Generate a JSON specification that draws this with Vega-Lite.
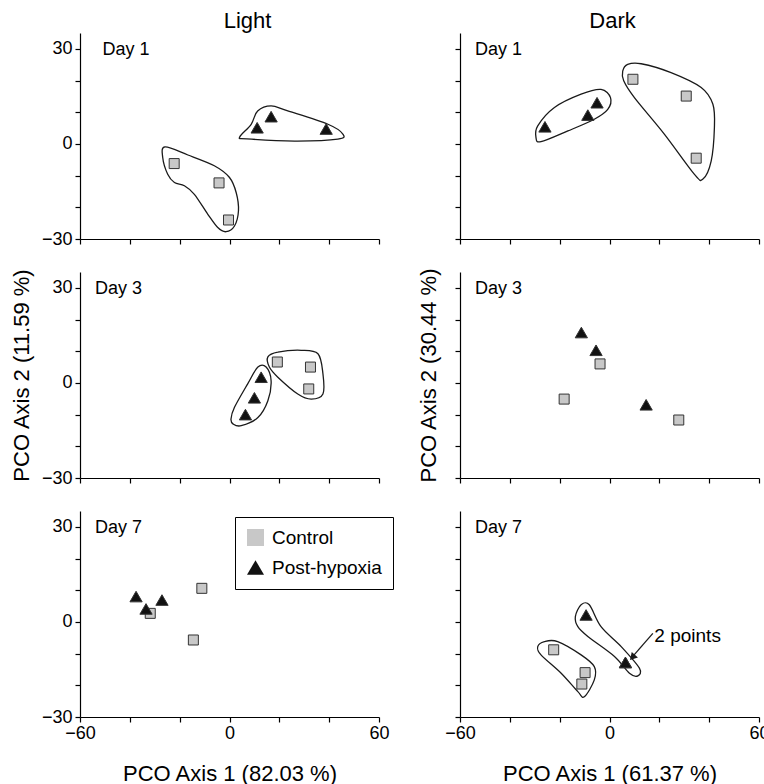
{
"$schema":"https://vega.github.io/schema/vega-lite/v6.json",
"padding":{"left":10,"top":10,"right":5,"bottom":0},
"config":{"view":{"stroke":null},"font":"Liberation Sans",
"axis":{"domainColor":"black","tickColor":"black","domainWidth":1.2,"tickWidth":1.2,"tickSize":5,"labelFont":"Liberation Sans","labelFontSize":18,"labelColor":"black","titleFont":"Liberation Sans","titleFontSize":22,"titleFontWeight":"normal","titleColor":"black","grid":false,"labelFlush":false,"labelOverlap":false,"labelBound":false},
"legend":{"title":null,"orient":"none","legendX":155,"legendY":6,"direction":"vertical","strokeColor":"black","fillColor":"white","padding":11,"symbolSize":290,"labelFontSize":19,"labelFont":"Liberation Sans","labelColor":"black","rowPadding":9,"labelOffset":7,"symbolStrokeWidth":1,"symbolStrokeColor":"#333333","cornerRadius":0},
"title":{"font":"Liberation Sans","fontSize":22,"fontWeight":"normal","color":"black"}},
"datasets":{
"pts":[
{"panel":"L1","grp":"Control","x":-22.2,"y":-6.2},{"panel":"L1","grp":"Control","x":-4.2,"y":-12.3},{"panel":"L1","grp":"Control","x":-0.4,"y":-24.0},
{"panel":"L1","grp":"Post-hypoxia","x":11.1,"y":5.1},{"panel":"L1","grp":"Post-hypoxia","x":16.7,"y":8.6},{"panel":"L1","grp":"Post-hypoxia","x":38.8,"y":4.7},
{"panel":"D1","grp":"Control","x":9.4,"y":20.4},{"panel":"D1","grp":"Control","x":30.8,"y":15.1},{"panel":"D1","grp":"Control","x":34.8,"y":-4.5},
{"panel":"D1","grp":"Post-hypoxia","x":-25.9,"y":5.4},{"panel":"D1","grp":"Post-hypoxia","x":-8.7,"y":9.1},{"panel":"D1","grp":"Post-hypoxia","x":-5.0,"y":13.0},
{"panel":"L3","grp":"Control","x":19.2,"y":6.6},{"panel":"L3","grp":"Control","x":32.5,"y":5.0},{"panel":"L3","grp":"Control","x":31.8,"y":-1.9},
{"panel":"L3","grp":"Post-hypoxia","x":12.7,"y":1.8},{"panel":"L3","grp":"Post-hypoxia","x":10.0,"y":-4.7},{"panel":"L3","grp":"Post-hypoxia","x":6.4,"y":-10.0},
{"panel":"D3","grp":"Control","x":-3.8,"y":6.0},{"panel":"D3","grp":"Control","x":-18.2,"y":-5.1},{"panel":"D3","grp":"Control","x":27.8,"y":-11.7},
{"panel":"D3","grp":"Post-hypoxia","x":-11.3,"y":15.9},{"panel":"D3","grp":"Post-hypoxia","x":-5.4,"y":10.3},{"panel":"D3","grp":"Post-hypoxia","x":14.7,"y":-6.9},
{"panel":"L7","grp":"Control","x":-31.8,"y":2.7},{"panel":"L7","grp":"Control","x":-11.1,"y":10.6},{"panel":"L7","grp":"Control","x":-14.5,"y":-5.7},
{"panel":"L7","grp":"Post-hypoxia","x":-37.5,"y":8.0},{"panel":"L7","grp":"Post-hypoxia","x":-33.5,"y":4.1},{"panel":"L7","grp":"Post-hypoxia","x":-27.1,"y":6.9},
{"panel":"D7","grp":"Control","x":-22.4,"y":-8.8},{"panel":"D7","grp":"Control","x":-9.8,"y":-16.0},{"panel":"D7","grp":"Control","x":-11.1,"y":-19.6},
{"panel":"D7","grp":"Post-hypoxia","x":-9.4,"y":2.2},{"panel":"D7","grp":"Post-hypoxia","x":6.4,"y":-12.8},{"panel":"D7","grp":"Post-hypoxia","x":6.4,"y":-12.8}
],
"hulls":[
{"panel":"L1","h":"a","i":0,"x":4.1,"y":2.2},{"panel":"L1","h":"a","i":1,"x":8.7,"y":6.2},{"panel":"L1","h":"a","i":2,"x":11.3,"y":10.4},{"panel":"L1","h":"a","i":3,"x":16.7,"y":12.0},{"panel":"L1","h":"a","i":4,"x":23.4,"y":10.4},{"panel":"L1","h":"a","i":5,"x":39.5,"y":6.2},{"panel":"L1","h":"a","i":6,"x":45.5,"y":3.1},{"panel":"L1","h":"a","i":7,"x":43.5,"y":1.5},{"panel":"L1","h":"a","i":8,"x":26.1,"y":0.9},{"panel":"L1","h":"a","i":9,"x":7.0,"y":1.6},
{"panel":"L1","h":"b","i":0,"x":-25.9,"y":-0.95},{"panel":"L1","h":"b","i":1,"x":-16.7,"y":-3.5},{"panel":"L1","h":"b","i":2,"x":-6.1,"y":-6.9},{"panel":"L1","h":"b","i":3,"x":0.0,"y":-10.6},{"panel":"L1","h":"b","i":4,"x":2.7,"y":-15.4},{"panel":"L1","h":"b","i":5,"x":3.6,"y":-21.1},{"panel":"L1","h":"b","i":6,"x":2.0,"y":-25.9},{"panel":"L1","h":"b","i":7,"x":-1.4,"y":-27.7},{"panel":"L1","h":"b","i":8,"x":-4.7,"y":-26.4},{"panel":"L1","h":"b","i":9,"x":-8.7,"y":-22.2},{"panel":"L1","h":"b","i":10,"x":-14.1,"y":-15.9},{"panel":"L1","h":"b","i":11,"x":-18.1,"y":-13.2},{"panel":"L1","h":"b","i":12,"x":-22.1,"y":-12.2},{"panel":"L1","h":"b","i":13,"x":-24.8,"y":-9.6},{"panel":"L1","h":"b","i":14,"x":-26.8,"y":-4.3},
{"panel":"D1","h":"c","i":0,"x":-29.5,"y":2.0},{"panel":"D1","h":"c","i":1,"x":-28.8,"y":5.7},{"panel":"D1","h":"c","i":2,"x":-22.1,"y":11.5},{"panel":"D1","h":"c","i":3,"x":-11.4,"y":15.7},{"panel":"D1","h":"c","i":4,"x":-3.4,"y":17.2},{"panel":"D1","h":"c","i":5,"x":0.4,"y":14.6},{"panel":"D1","h":"c","i":6,"x":-0.7,"y":10.9},{"panel":"D1","h":"c","i":7,"x":-6.1,"y":7.8},{"panel":"D1","h":"c","i":8,"x":-16.7,"y":4.1},{"panel":"D1","h":"c","i":9,"x":-27.5,"y":0.7},
{"panel":"D1","h":"d","i":0,"x":5.3,"y":23.0},{"panel":"D1","h":"d","i":1,"x":7.3,"y":25.1},{"panel":"D1","h":"d","i":2,"x":12.7,"y":25.3},{"panel":"D1","h":"d","i":3,"x":24.7,"y":22.5},{"panel":"D1","h":"d","i":4,"x":36.8,"y":17.8},{"panel":"D1","h":"d","i":5,"x":41.5,"y":12.5},{"panel":"D1","h":"d","i":6,"x":42.1,"y":5.1},{"panel":"D1","h":"d","i":7,"x":40.8,"y":-5.4},{"panel":"D1","h":"d","i":8,"x":37.5,"y":-11.1},{"panel":"D1","h":"d","i":9,"x":34.1,"y":-9.6},{"panel":"D1","h":"d","i":10,"x":22.0,"y":3.1},{"panel":"D1","h":"d","i":11,"x":10.0,"y":14.6},{"panel":"D1","h":"d","i":12,"x":5.7,"y":19.9},
{"panel":"L3","h":"e","i":0,"x":0.6,"y":-11.4},{"panel":"L3","h":"e","i":1,"x":2.0,"y":-7.7},{"panel":"L3","h":"e","i":2,"x":7.3,"y":-0.3},{"panel":"L3","h":"e","i":3,"x":11.4,"y":5.0},{"panel":"L3","h":"e","i":4,"x":14.7,"y":5.0},{"panel":"L3","h":"e","i":5,"x":16.7,"y":0.7},{"panel":"L3","h":"e","i":6,"x":15.4,"y":-5.6},{"panel":"L3","h":"e","i":7,"x":11.4,"y":-10.9},{"panel":"L3","h":"e","i":8,"x":4.7,"y":-13.5},{"panel":"L3","h":"e","i":9,"x":1.5,"y":-13.0},
{"panel":"L3","h":"f","i":0,"x":15.4,"y":8.2},{"panel":"L3","h":"f","i":1,"x":19.4,"y":9.7},{"panel":"L3","h":"f","i":2,"x":28.8,"y":10.3},{"panel":"L3","h":"f","i":3,"x":35.5,"y":9.2},{"panel":"L3","h":"f","i":4,"x":37.5,"y":2.9},{"panel":"L3","h":"f","i":5,"x":37.5,"y":-3.5},{"panel":"L3","h":"f","i":6,"x":32.8,"y":-5.1},{"panel":"L3","h":"f","i":7,"x":27.4,"y":-3.5},{"panel":"L3","h":"f","i":8,"x":19.4,"y":1.8},{"panel":"L3","h":"f","i":9,"x":16.0,"y":5.0},
{"panel":"D7","h":"g","i":0,"x":-13.7,"y":1.7},{"panel":"D7","h":"g","i":1,"x":-11.4,"y":5.4},{"panel":"D7","h":"g","i":2,"x":-8.1,"y":5.4},{"panel":"D7","h":"g","i":3,"x":-3.4,"y":-1.5},{"panel":"D7","h":"g","i":4,"x":4.7,"y":-7.8},{"panel":"D7","h":"g","i":5,"x":12.0,"y":-14.6},{"panel":"D7","h":"g","i":6,"x":11.4,"y":-17.0},{"panel":"D7","h":"g","i":7,"x":8.0,"y":-16.2},{"panel":"D7","h":"g","i":8,"x":2.0,"y":-10.9},{"panel":"D7","h":"g","i":9,"x":-8.7,"y":-4.6},{"panel":"D7","h":"g","i":10,"x":-12.7,"y":-1.5},
{"panel":"D7","h":"h","i":0,"x":-28.8,"y":-7.8},{"panel":"D7","h":"h","i":1,"x":-26.1,"y":-6.2},{"panel":"D7","h":"h","i":2,"x":-20.8,"y":-6.2},{"panel":"D7","h":"h","i":3,"x":-11.4,"y":-10.4},{"panel":"D7","h":"h","i":4,"x":-6.1,"y":-14.1},{"panel":"D7","h":"h","i":5,"x":-6.1,"y":-18.3},{"panel":"D7","h":"h","i":6,"x":-10.1,"y":-23.6},{"panel":"D7","h":"h","i":7,"x":-12.7,"y":-22.0},{"panel":"D7","h":"h","i":8,"x":-19.4,"y":-16.2},{"panel":"D7","h":"h","i":9,"x":-27.5,"y":-10.4}
],
"labels":[
{"panel":"L1","t":"Day 1","x":-51,"y":28},{"panel":"D1","t":"Day 1","x":-54,"y":28},
{"panel":"L3","t":"Day 3","x":-54,"y":28},{"panel":"D3","t":"Day 3","x":-54,"y":28},
{"panel":"L7","t":"Day 7","x":-54,"y":28},{"panel":"D7","t":"Day 7","x":-54,"y":28}
],
"notes":[{"panel":"D7","t":"2 points","x":18.0,"y":-6.2}],
"arrows":[{"panel":"D7","x":17.4,"y":-3.6,"x2":9.0,"y2":-11.2}],
"heads":[{"panel":"D7","x":9.2,"y":-11.2}]
},
"resolve":{"scale":{"fill":"independent","shape":"independent","size":"independent"},"legend":{"fill":"independent","shape":"independent"}},
"bounds":"flush",
"columns":2,
"spacing":{"row":33,"column":81},
"concat":[
{"width":299,"height":206,
"title":{"text":"Light","frame":"group","anchor":"middle","dx":18,"offset":0},
"encoding":{"x":{"field":"x","type":"quantitative","scale":{"domain":[-60,60],"nice":false,"zero":false},"axis":{"values":[-60,-40,-20,0,20,40,60],"labels":false,"title":null}},
"y":{"field":"y","type":"quantitative","scale":{"domain":[-30,35],"nice":false,"zero":false},"axis":{"values":[-30,-20,-10,0,10,20,30],"labelExpr":"abs(datum.value) % 30 === 0 ? datum.label : ''","labelPadding":3,"title":null}}},
"layer":[
{"data":{"name":"hulls"},"transform":[{"filter":"datum.panel === 'L1'"}],"mark":{"type":"line","interpolate":"cardinal-closed","stroke":"#1a1a1a","strokeWidth":1.3},"encoding":{"detail":{"field":"h"},"order":{"field":"i","type":"quantitative"}}},
{"data":{"name":"pts"},"transform":[{"filter":"datum.panel === 'L1'"}],"mark":{"type":"point","filled":true,"stroke":"#333333","strokeWidth":1,"opacity":1},"encoding":{
"shape":{"field":"grp","type":"nominal","scale":{"domain":["Control","Post-hypoxia"],"range":["square","triangle-up"]},"legend":null},
"fill":{"field":"grp","type":"nominal","scale":{"domain":["Control","Post-hypoxia"],"range":["#c8c8c8","#111111"]},"legend":null},
"size":{"field":"grp","type":"nominal","scale":{"domain":["Control","Post-hypoxia"],"range":[100,150]},"legend":null}}},
{"data":{"name":"labels"},"transform":[{"filter":"datum.panel === 'L1'"}],"mark":{"type":"text","align":"left","baseline":"alphabetic","fontSize":18,"font":"Liberation Sans","color":"black"},"encoding":{"text":{"field":"t"}}}
]},
{"width":299,"height":206,
"title":{"text":"Dark","frame":"group","anchor":"middle","dx":3,"offset":0},
"encoding":{"x":{"field":"x","type":"quantitative","scale":{"domain":[-60,60],"nice":false,"zero":false},"axis":{"values":[-60,-40,-20,0,20,40,60],"labels":false,"title":null}},
"y":{"field":"y","type":"quantitative","scale":{"domain":[-30,35],"nice":false,"zero":false},"axis":{"values":[-30,-20,-10,0,10,20,30],"labels":false,"title":null}}},
"layer":[
{"data":{"name":"hulls"},"transform":[{"filter":"datum.panel === 'D1'"}],"mark":{"type":"line","interpolate":"cardinal-closed","stroke":"#1a1a1a","strokeWidth":1.3},"encoding":{"detail":{"field":"h"},"order":{"field":"i","type":"quantitative"}}},
{"data":{"name":"pts"},"transform":[{"filter":"datum.panel === 'D1'"}],"mark":{"type":"point","filled":true,"stroke":"#333333","strokeWidth":1,"opacity":1},"encoding":{
"shape":{"field":"grp","type":"nominal","scale":{"domain":["Control","Post-hypoxia"],"range":["square","triangle-up"]},"legend":null},
"fill":{"field":"grp","type":"nominal","scale":{"domain":["Control","Post-hypoxia"],"range":["#c8c8c8","#111111"]},"legend":null},
"size":{"field":"grp","type":"nominal","scale":{"domain":["Control","Post-hypoxia"],"range":[100,150]},"legend":null}}},
{"data":{"name":"labels"},"transform":[{"filter":"datum.panel === 'D1'"}],"mark":{"type":"text","align":"left","baseline":"alphabetic","fontSize":18,"font":"Liberation Sans","color":"black"},"encoding":{"text":{"field":"t"}}}
]},
{"width":299,"height":206,
"encoding":{"x":{"field":"x","type":"quantitative","scale":{"domain":[-60,60],"nice":false,"zero":false},"axis":{"values":[-60,-40,-20,0,20,40,60],"labels":false,"title":null}},
"y":{"field":"y","type":"quantitative","scale":{"domain":[-30,35],"nice":false,"zero":false},"axis":{"values":[-30,-20,-10,0,10,20,30],"labelExpr":"abs(datum.value) % 30 === 0 ? datum.label : ''","labelPadding":3,"title":"PCO Axis 2 (11.59 %)","titlePadding":8}}},
"layer":[
{"data":{"name":"hulls"},"transform":[{"filter":"datum.panel === 'L3'"}],"mark":{"type":"line","interpolate":"cardinal-closed","stroke":"#1a1a1a","strokeWidth":1.3},"encoding":{"detail":{"field":"h"},"order":{"field":"i","type":"quantitative"}}},
{"data":{"name":"pts"},"transform":[{"filter":"datum.panel === 'L3'"}],"mark":{"type":"point","filled":true,"stroke":"#333333","strokeWidth":1,"opacity":1},"encoding":{
"shape":{"field":"grp","type":"nominal","scale":{"domain":["Control","Post-hypoxia"],"range":["square","triangle-up"]},"legend":null},
"fill":{"field":"grp","type":"nominal","scale":{"domain":["Control","Post-hypoxia"],"range":["#c8c8c8","#111111"]},"legend":null},
"size":{"field":"grp","type":"nominal","scale":{"domain":["Control","Post-hypoxia"],"range":[100,150]},"legend":null}}},
{"data":{"name":"labels"},"transform":[{"filter":"datum.panel === 'L3'"}],"mark":{"type":"text","align":"left","baseline":"alphabetic","fontSize":18,"font":"Liberation Sans","color":"black"},"encoding":{"text":{"field":"t"}}}
]},
{"width":299,"height":206,
"encoding":{"x":{"field":"x","type":"quantitative","scale":{"domain":[-60,60],"nice":false,"zero":false},"axis":{"values":[-60,-40,-20,0,20,40,60],"labels":false,"title":null}},
"y":{"field":"y","type":"quantitative","scale":{"domain":[-30,35],"nice":false,"zero":false},"axis":{"values":[-30,-20,-10,0,10,20,30],"labels":false,"title":"PCO Axis 2 (30.44 %)","titlePadding":14}}},
"layer":[
{"data":{"name":"pts"},"transform":[{"filter":"datum.panel === 'D3'"}],"mark":{"type":"point","filled":true,"stroke":"#333333","strokeWidth":1,"opacity":1},"encoding":{
"shape":{"field":"grp","type":"nominal","scale":{"domain":["Control","Post-hypoxia"],"range":["square","triangle-up"]},"legend":null},
"fill":{"field":"grp","type":"nominal","scale":{"domain":["Control","Post-hypoxia"],"range":["#c8c8c8","#111111"]},"legend":null},
"size":{"field":"grp","type":"nominal","scale":{"domain":["Control","Post-hypoxia"],"range":[100,150]},"legend":null}}},
{"data":{"name":"labels"},"transform":[{"filter":"datum.panel === 'D3'"}],"mark":{"type":"text","align":"left","baseline":"alphabetic","fontSize":18,"font":"Liberation Sans","color":"black"},"encoding":{"text":{"field":"t"}}}
]},
{"width":299,"height":206,
"encoding":{"x":{"field":"x","type":"quantitative","scale":{"domain":[-60,60],"nice":false,"zero":false},"axis":{"values":[-60,-40,-20,0,20,40,60],"labelExpr":"abs(datum.value) % 60 === 0 ? datum.label : ''","labelPadding":2,"title":"PCO Axis 1 (82.03 %)","titlePadding":21}},
"y":{"field":"y","type":"quantitative","scale":{"domain":[-30,35],"nice":false,"zero":false},"axis":{"values":[-30,-20,-10,0,10,20,30],"labelExpr":"abs(datum.value) % 30 === 0 ? datum.label : ''","labelPadding":3,"title":null}}},
"layer":[
{"data":{"name":"pts"},"transform":[{"filter":"datum.panel === 'L7' && datum.grp === 'Control'"}],"mark":{"type":"point","filled":true,"stroke":"#333333","strokeWidth":1,"opacity":1,"size":100},"encoding":{
"shape":{"field":"grp","type":"nominal","scale":{"domain":["Control","Post-hypoxia"],"range":["square","triangle-up"]}},
"fill":{"field":"grp","type":"nominal","scale":{"domain":["Control","Post-hypoxia"],"range":["#c8c8c8","#111111"]}}}},
{"data":{"name":"pts"},"transform":[{"filter":"datum.panel === 'L7' && datum.grp === 'Post-hypoxia'"}],"mark":{"type":"point","filled":true,"stroke":"#333333","strokeWidth":1,"opacity":1,"size":150},"encoding":{
"shape":{"field":"grp","type":"nominal","scale":{"domain":["Control","Post-hypoxia"],"range":["square","triangle-up"]}},
"fill":{"field":"grp","type":"nominal","scale":{"domain":["Control","Post-hypoxia"],"range":["#c8c8c8","#111111"]}}}},
{"data":{"name":"labels"},"transform":[{"filter":"datum.panel === 'L7'"}],"mark":{"type":"text","align":"left","baseline":"alphabetic","fontSize":18,"font":"Liberation Sans","color":"black"},"encoding":{"text":{"field":"t"}}}
]},
{"width":299,"height":206,
"encoding":{"x":{"field":"x","type":"quantitative","scale":{"domain":[-60,60],"nice":false,"zero":false},"axis":{"values":[-60,-40,-20,0,20,40,60],"labelExpr":"abs(datum.value) % 60 === 0 ? datum.label : ''","labelPadding":2,"title":"PCO Axis 1 (61.37 %)","titlePadding":21}},
"y":{"field":"y","type":"quantitative","scale":{"domain":[-30,35],"nice":false,"zero":false},"axis":{"values":[-30,-20,-10,0,10,20,30],"labels":false,"title":null}}},
"layer":[
{"data":{"name":"hulls"},"transform":[{"filter":"datum.panel === 'D7'"}],"mark":{"type":"line","interpolate":"cardinal-closed","stroke":"#1a1a1a","strokeWidth":1.3},"encoding":{"detail":{"field":"h"},"order":{"field":"i","type":"quantitative"}}},
{"data":{"name":"pts"},"transform":[{"filter":"datum.panel === 'D7'"}],"mark":{"type":"point","filled":true,"stroke":"#333333","strokeWidth":1,"opacity":1},"encoding":{
"shape":{"field":"grp","type":"nominal","scale":{"domain":["Control","Post-hypoxia"],"range":["square","triangle-up"]},"legend":null},
"fill":{"field":"grp","type":"nominal","scale":{"domain":["Control","Post-hypoxia"],"range":["#c8c8c8","#111111"]},"legend":null},
"size":{"field":"grp","type":"nominal","scale":{"domain":["Control","Post-hypoxia"],"range":[100,150]},"legend":null}}},
{"data":{"name":"labels"},"transform":[{"filter":"datum.panel === 'D7'"}],"mark":{"type":"text","align":"left","baseline":"alphabetic","fontSize":18,"font":"Liberation Sans","color":"black"},"encoding":{"text":{"field":"t"}}},
{"data":{"name":"notes"},"mark":{"type":"text","align":"left","baseline":"alphabetic","fontSize":19,"font":"Liberation Sans","color":"black"},"encoding":{"text":{"field":"t"}}},
{"data":{"name":"arrows"},"mark":{"type":"rule","color":"#1a1a1a","strokeWidth":1.3},"encoding":{"x2":{"field":"x2"},"y2":{"field":"y2"}}},
{"data":{"name":"heads"},"mark":{"type":"point","shape":"triangle-up","filled":true,"color":"#1a1a1a","size":70,"angle":222,"opacity":1},"encoding":{}}
]}
]
}
